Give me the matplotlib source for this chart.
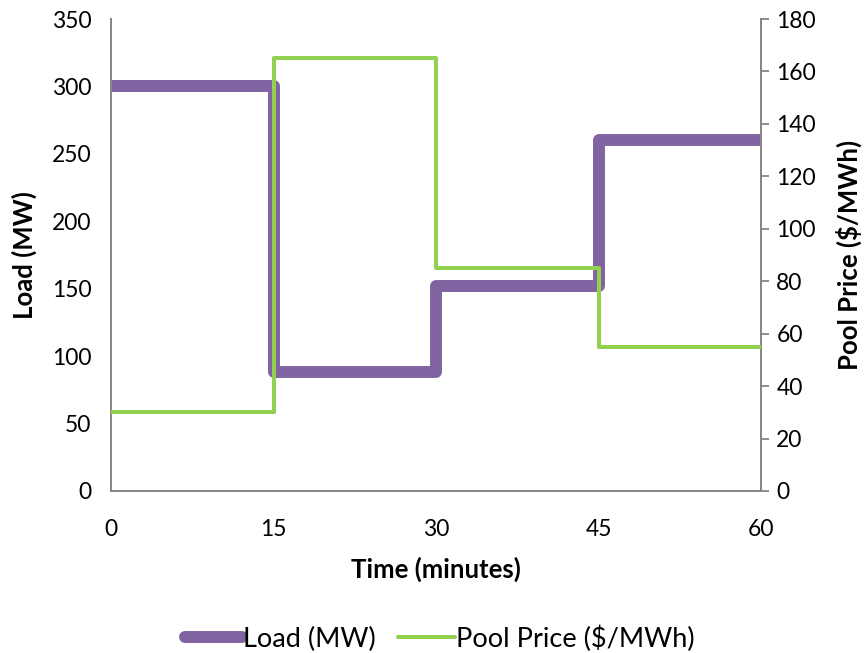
import matplotlib
matplotlib.use("Agg")
import matplotlib.pyplot as plt
from matplotlib.lines import Line2D

plt.rcParams['font.family'] = ['Lato', 'DejaVu Sans']

# Interval boundaries (minutes) and step values
time_edges = [0, 15, 30, 45, 60]
load_mw = [300, 88, 152, 260]
pool_price = [30, 165, 85, 55]

x_ticks = [0, 15, 30, 45, 60]
load_ticks = [0, 50, 100, 150, 200, 250, 300, 350]
price_ticks = [0, 20, 40, 60, 80, 100, 120, 140, 160, 180]

purple = '#8064A2'
green = '#92D050'
axis_gray = '#868686'


def steps(edges, values):
    xs, ys = [], []
    for i, v in enumerate(values):
        xs += [edges[i], edges[i + 1]]
        ys += [v, v]
    return xs, ys


fig = plt.figure(figsize=(8.64, 6.53), dpi=100)
ax = fig.add_axes([0.1285, 0.2481, 0.7523, 0.7228])
ax2 = ax.twinx()

lx, ly = steps(time_edges, load_mw)
px, py = steps(time_edges, pool_price)

ax.plot(lx, ly, color=purple, lw=8.6, solid_joinstyle='round',
        solid_capstyle='butt', zorder=2)
ax2.plot(px, py, color=green, lw=2.9, solid_joinstyle='round',
         solid_capstyle='butt', zorder=3)

ax.set_xlim(0, 60)
ax.set_ylim(0, 350)
ax2.set_ylim(0, 180)
ax.set_xticks(x_ticks)
ax.set_yticks(load_ticks)
ax2.set_yticks(price_ticks)

tick_fs = 16.5
for a in (ax, ax2):
    a.spines['top'].set_visible(False)
    for s in ('left', 'right', 'bottom'):
        a.spines[s].set_color(axis_gray)
        a.spines[s].set_linewidth(1.3)
    a.tick_params(labelsize=tick_fs, colors='black')

ax.tick_params(axis='x', length=0, pad=20)
ax.tick_params(axis='y', length=0, pad=14)
ax2.tick_params(axis='y', length=6, width=1.3, color=axis_gray, pad=5)

ax.set_xlabel('Time (minutes)', fontsize=18.5, fontweight='bold', labelpad=12)
ax.set_ylabel('Load (MW)', fontsize=18.5, fontweight='bold', labelpad=11)
ax2.set_ylabel('Pool Price ($/MWh)', fontsize=18.5, fontweight='bold', labelpad=14)

handles = [
    Line2D([0], [0], color=purple, lw=8.6, solid_capstyle='round'),
    Line2D([0], [0], color=green, lw=2.9, solid_capstyle='round'),
]
fig.legend(handles, ['Load (MW)', 'Pool Price ($/MWh)'],
           loc='center', bbox_to_anchor=(0.509, 0.022), ncol=2, frameon=False,
           fontsize=19.5, handlelength=2.1, handletextpad=0.05, columnspacing=0.8)

fig.savefig('out.png', dpi=100, facecolor='white')
